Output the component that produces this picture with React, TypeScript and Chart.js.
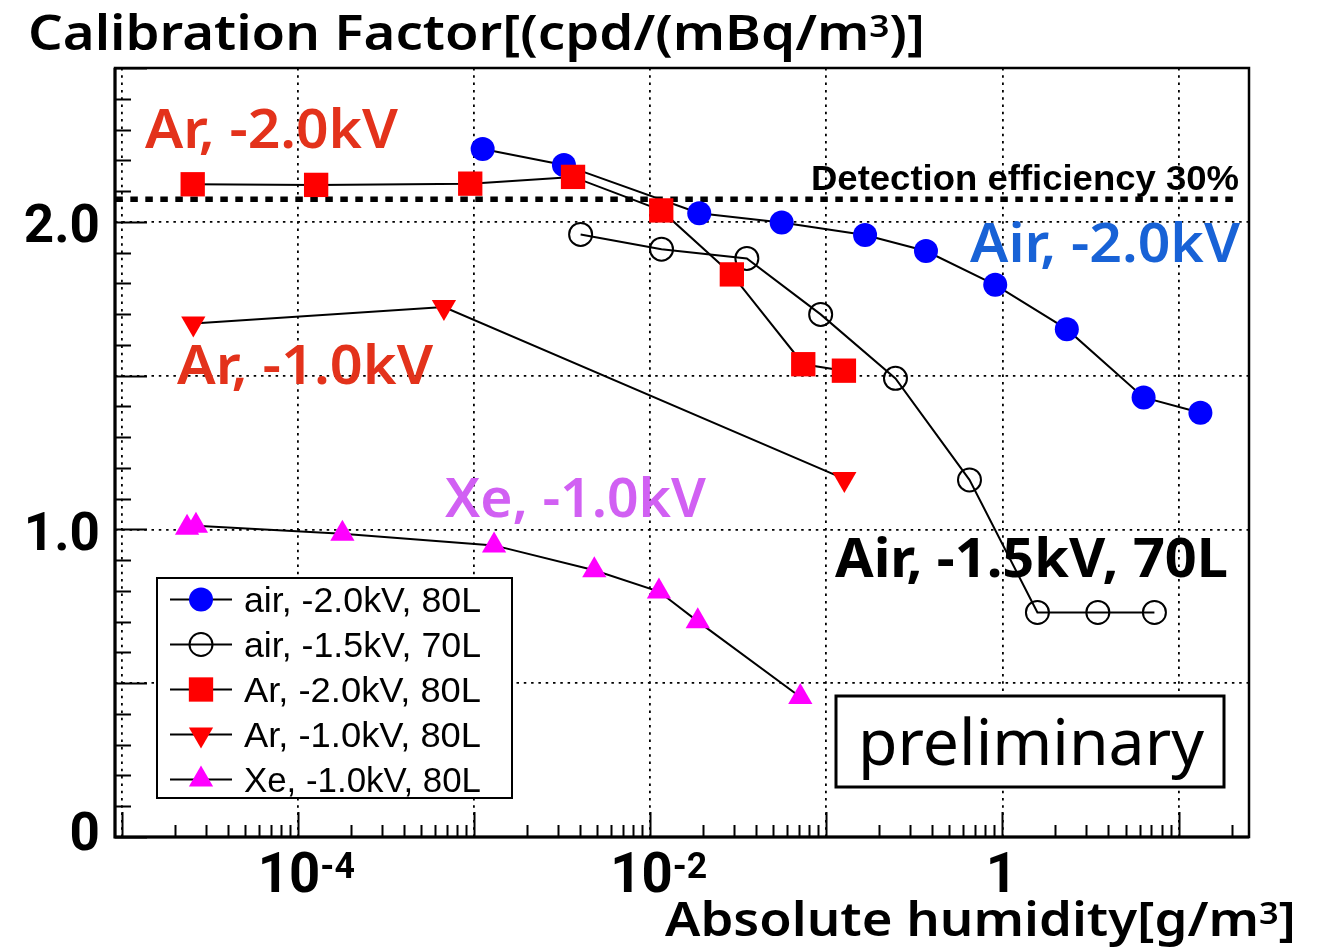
import React, { useEffect, useRef } from 'react';
import { Chart, registerables } from 'chart.js';
import { drawPoint } from 'chart.js/helpers';

Chart.register(...registerables);

// ---------------- data ----------------
const airHighX = [1.12e-3, 3.24e-3, 0.019, 0.0558, 0.166, 0.368, 0.91, 2.32, 6.33, 13.3];
const airHighY = [2.237, 2.185, 2.028, 1.998, 1.957, 1.905, 1.795, 1.651, 1.429, 1.379];

const airMidX = [4.03e-3, 0.0116, 0.0354, 0.0929, 0.247, 0.65, 1.58, 3.48, 7.29];
const airMidY = [1.959, 1.911, 1.881, 1.699, 1.491, 1.161, 0.73, 0.73, 0.73];

const arHighX = [2.53e-5, 1.27e-4, 9.52e-4, 3.65e-3, 0.01156, 0.0291, 0.074, 0.1259];
const arHighY = [2.122, 2.12, 2.124, 2.146, 2.037, 1.829, 1.537, 1.516];

const arLowX = [2.55e-5, 6.75e-4, 0.1266];
const arLowY = [1.669, 1.723, 1.164];

const xeLowX = [2.35e-5, 2.64e-5, 1.79e-4, 1.3e-3, 4.82e-3, 0.01122, 0.01863, 0.0712];
const xeLowY = [1.005, 1.012, 0.986, 0.948, 0.867, 0.798, 0.701, 0.455];

const effX = [9.2e-6, 22.3];
const effY = [2.073, 2.073];

const seriesLabels = [
  'air, -2.0kV, 80L',
  'air, -1.5kV, 70L',
  'Ar, -2.0kV, 80L',
  'Ar, -1.0kV, 80L',
  'Xe, -1.0kV, 80L',
];

// ---------------- axes ----------------
const X_MIN = Math.pow(10, -5.038);
const X_MAX = Math.pow(10, 1.3997);
const Y_MIN = 0;
const Y_MAX = 2.5;
const xGridValues = [1e-5, 1e-4, 1e-3, 1e-2, 1e-1, 1, 10];
const xTickLabels = [
  { value: 1e-4, base: '10', exp: '-4' },
  { value: 1e-2, base: '10', exp: '-2' },
  { value: 1, base: '1', exp: '' },
];
const yTickLabels = [
  { value: 0, text: '0', dy: 13 },
  { value: 1, text: '1.0', dy: 20.5 },
  { value: 2, text: '2.0', dy: 20 },
];
const Y_GRID_STEP = 0.5;

const titleY = 'Calibration Factor[(cpd/(mBq/m';
const titleX = 'Absolute humidity[g/m';

// ---------------- styles / layout ----------------
const ROBO = 'Roboto, "Noto Sans", sans-serif';
const NOTO = '"Noto Sans", "Open Sans", sans-serif';
const HELV = '"Liberation Sans", Arial, Helvetica, sans-serif';
const W = 1319;
const H = 948;

const annotations = [
  { text: 'Ar, -2.0kV', color: '#e3321b', font: `600 55px ${NOTO}`, x: 145, y: 148, w: 253 },
  { text: 'Air, -2.0kV', color: '#1862d6', font: `600 55px ${NOTO}`, x: 970, y: 261.5, w: 270 },
  { text: 'Ar, -1.0kV', color: '#e3321b', font: `600 55px ${NOTO}`, x: 177, y: 384, w: 256 },
  { text: 'Xe, -1.0kV', color: '#d160f3', font: `600 55px ${NOTO}`, x: 445, y: 517, w: 261 },
  { text: 'Air, -1.5kV, 70L', color: '#000', font: `700 54px ${NOTO}`, x: 835, y: 576.5, w: 393 },
  { text: 'Detection efficiency 30%', color: '#000', font: `700 35px ${HELV}`, x: 811, y: 190, w: 428 },
];

type Seg = { t: string; font: string; dy: number };

function drawRich(
  ctx: CanvasRenderingContext2D,
  segs: Seg[],
  x: number,
  y: number,
  color: string,
  targetW?: number,
  align: 'left' | 'right' | 'center' = 'left'
) {
  let w = 0;
  const ws = segs.map((s) => {
    ctx.font = s.font;
    const m = ctx.measureText(s.t).width;
    w += m;
    return m;
  });
  let sx = 1;
  if (targetW && w > 0) sx = Math.max(0.85, Math.min(1.15, targetW / w));
  const total = w * sx;
  const x0 = align === 'right' ? x - total : align === 'center' ? x - total / 2 : x;
  ctx.save();
  ctx.translate(x0, y);
  ctx.scale(sx, 1);
  ctx.fillStyle = color;
  ctx.textAlign = 'left';
  ctx.textBaseline = 'alphabetic';
  let cx = 0;
  segs.forEach((s, i) => {
    ctx.font = s.font;
    ctx.fillText(s.t, cx, s.dy);
    cx += ws[i];
  });
  ctx.restore();
}

const mk = (xs: number[], ys: number[]) => xs.map((x, i) => ({ x, y: ys[i] }));

const decorPlugin = {
  id: 'decor',
  afterDraw(chart: any) {
    const { ctx, chartArea: a } = chart;
    const xs = chart.scales.x;
    const ys = chart.scales.y;
    ctx.save();

    // tick marks (inside)
    ctx.strokeStyle = '#000';
    ctx.lineWidth = 2;
    ctx.beginPath();
    for (let e = -6; e <= 1; e++) {
      for (let m = 1; m <= 9; m++) {
        const v = m * Math.pow(10, e);
        if (v < X_MIN || v > X_MAX) continue;
        const px = Math.round(xs.getPixelForValue(v)) + 0.5;
        const len = m === 1 ? 25 : 12;
        ctx.moveTo(px, a.bottom);
        ctx.lineTo(px, a.bottom - len);
      }
    }
    for (let i = 0; i <= 25; i++) {
      const v = i / 10;
      const py = Math.round(ys.getPixelForValue(v)) + 0.5;
      const len = i % 5 === 0 ? 32 : 16;
      ctx.moveTo(a.left, py);
      ctx.lineTo(a.left + len, py);
    }
    ctx.stroke();

    // frame
    ctx.lineWidth = 2.5;
    ctx.strokeRect(a.left, a.top, a.right - a.left, a.bottom - a.top);
    ctx.lineWidth = 3;
    ctx.beginPath();
    ctx.moveTo(a.left, a.top);
    ctx.lineTo(a.left, a.bottom);
    ctx.lineTo(a.right, a.bottom);
    ctx.stroke();

    // legend box
    const lg = { x: 157, y: 578, w: 355, h: 220 };
    ctx.fillStyle = '#fff';
    ctx.fillRect(lg.x, lg.y, lg.w, lg.h);
    ctx.lineWidth = 2;
    ctx.strokeStyle = '#000';
    ctx.strokeRect(lg.x, lg.y, lg.w, lg.h);
    const rows = chart.data.datasets.filter((d: any) => d.pointRadius > 0);
    rows.forEach((d: any, i: number) => {
      const cy = 599.5 + i * 45;
      ctx.strokeStyle = '#000';
      ctx.lineWidth = 2;
      ctx.beginPath();
      ctx.moveTo(170, cy);
      ctx.lineTo(232, cy);
      ctx.stroke();
      ctx.fillStyle = d.pointBackgroundColor;
      ctx.strokeStyle = d.pointBorderColor;
      ctx.lineWidth = d.pointBorderWidth || 0;
      drawPoint(
        ctx,
        {
          pointStyle: d.pointStyle,
          rotation: d.pointRotation || 0,
          radius: d.pointRadius,
          borderWidth: d.pointBorderWidth || 0,
        } as any,
        201,
        cy
      );
      drawRich(ctx, [{ t: d.label, font: `35px ${HELV}`, dy: 0 }], 244, cy + 12.5, '#000', 237);
    });

    // preliminary box
    const pb = { x: 836, y: 696, w: 388, h: 91 };
    ctx.fillStyle = '#fff';
    ctx.fillRect(pb.x, pb.y, pb.w, pb.h);
    ctx.lineWidth = 3;
    ctx.strokeStyle = '#000';
    ctx.strokeRect(pb.x, pb.y, pb.w, pb.h);
    drawRich(ctx, [{ t: 'preliminary', font: `400 64px ${NOTO}`, dy: 0 }], 858, 765, '#000', 346);

    // annotations
    annotations.forEach((an) => {
      drawRich(ctx, [{ t: an.text, font: an.font, dy: 0 }], an.x, an.y, an.color, an.w);
    });

    // x tick labels
    xTickLabels.forEach((t) => {
      const px = xs.getPixelForValue(t.value);
      if (t.exp) {
        drawRich(
          ctx,
          [
            { t: t.base, font: `700 55px ${ROBO}`, dy: 0 },
            { t: t.exp, font: `700 36px ${ROBO}`, dy: -13.5 },
          ],
          px - 40,
          891.5,
          '#000',
          97
        );
      } else {
        drawRich(ctx, [{ t: t.base, font: `700 55px ${ROBO}`, dy: 0 }], px - 1, 891.5, '#000', undefined, 'center');
      }
    });

    // y tick labels
    yTickLabels.forEach((t) => {
      const py = ys.getPixelForValue(t.value);
      drawRich(ctx, [{ t: t.text, font: `700 53px ${ROBO}`, dy: 0 }], 100, py + t.dy, '#000', undefined, 'right');
    });

    // axis titles
    drawRich(
      ctx,
      [
        { t: titleY, font: `600 48px ${NOTO}`, dy: 0 },
        { t: '3', font: `600 31px ${NOTO}`, dy: -13 },
        { t: ')]', font: `600 48px ${NOTO}`, dy: 0 },
      ],
      28,
      50,
      '#000',
      897
    );
    drawRich(
      ctx,
      [
        { t: titleX, font: `600 46px ${NOTO}`, dy: 0 },
        { t: '3', font: `600 30px ${NOTO}`, dy: -12.5 },
        { t: ']', font: `600 46px ${NOTO}`, dy: 0 },
      ],
      665,
      936,
      '#000',
      631
    );

    ctx.restore();
  },
};

export default function App() {
  const ref = useRef<HTMLCanvasElement | null>(null);

  useEffect(() => {
    if (!ref.current) return;
    const gridCommon = {
      drawTicks: false,
      color: '#000',
      lineWidth: 1.8,
    };
    const chart = new Chart(ref.current, {
      type: 'scatter',
      data: {
        datasets: [
          {
            label: seriesLabels[0],
            data: mk(airHighX, airHighY),
            showLine: true,
            borderColor: '#000',
            borderWidth: 2,
            pointStyle: 'circle',
            pointRadius: 12,
            pointBackgroundColor: '#0000ff',
            pointBorderColor: '#0000ff',
            pointBorderWidth: 0,
            order: 1,
          },
          {
            label: seriesLabels[1],
            data: mk(airMidX, airMidY),
            showLine: true,
            borderColor: '#000',
            borderWidth: 2,
            pointStyle: 'circle',
            pointRadius: 11.5,
            pointBackgroundColor: 'rgba(0,0,0,0)',
            pointBorderColor: '#000',
            pointBorderWidth: 2,
            order: 2,
          },
          {
            label: seriesLabels[2],
            data: mk(arHighX, arHighY),
            showLine: true,
            borderColor: '#000',
            borderWidth: 2,
            pointStyle: 'rect',
            pointRadius: 17.2,
            pointBackgroundColor: '#ff0000',
            pointBorderColor: '#ff0000',
            pointBorderWidth: 0,
            order: 0,
          },
          {
            label: seriesLabels[3],
            data: mk(arLowX, arLowY),
            showLine: true,
            borderColor: '#000',
            borderWidth: 2,
            pointStyle: 'triangle',
            pointRotation: 180,
            pointRadius: 14,
            pointBackgroundColor: '#ff0000',
            pointBorderColor: '#ff0000',
            pointBorderWidth: 0,
            order: 3,
          },
          {
            label: seriesLabels[4],
            data: mk(xeLowX, xeLowY),
            showLine: true,
            borderColor: '#000',
            borderWidth: 2,
            pointStyle: 'triangle',
            pointRadius: 14,
            pointBackgroundColor: '#ff00ff',
            pointBorderColor: '#ff00ff',
            pointBorderWidth: 0,
            order: 4,
          },
          {
            label: 'Detection efficiency 30%',
            data: mk(effX, effY),
            showLine: true,
            borderColor: '#000',
            borderWidth: 5.5,
            borderDash: [7.5, 7.5],
            pointRadius: 0,
            order: 5,
          },
        ] as any,
      },
      options: {
        responsive: false,
        animation: false,
        devicePixelRatio: 1,
        events: [],
        layout: { padding: { left: 115, top: 68, right: 70, bottom: 111 } },
        plugins: { legend: { display: false }, tooltip: { enabled: false }, title: { display: false } },
        scales: {
          x: {
            type: 'logarithmic',
            min: X_MIN,
            max: X_MAX,
            afterBuildTicks: (s: any) => {
              s.ticks = xGridValues.map((v) => ({ value: v }));
            },
            ticks: { display: false },
            grid: gridCommon,
            border: { display: false, dash: [2.5, 4.8] },
          },
          y: {
            type: 'linear',
            min: Y_MIN,
            max: Y_MAX,
            ticks: { display: false, stepSize: Y_GRID_STEP },
            grid: gridCommon,
            border: { display: false, dash: [2.5, 4.8] },
          },
        },
      } as any,
      plugins: [decorPlugin],
    });
    return () => chart.destroy();
  }, []);

  return (
    <canvas
      ref={ref}
      width={W}
      height={H}
      style={{ position: 'absolute', left: 0, top: 0, width: W, height: H, background: '#fff' }}
    />
  );
}
